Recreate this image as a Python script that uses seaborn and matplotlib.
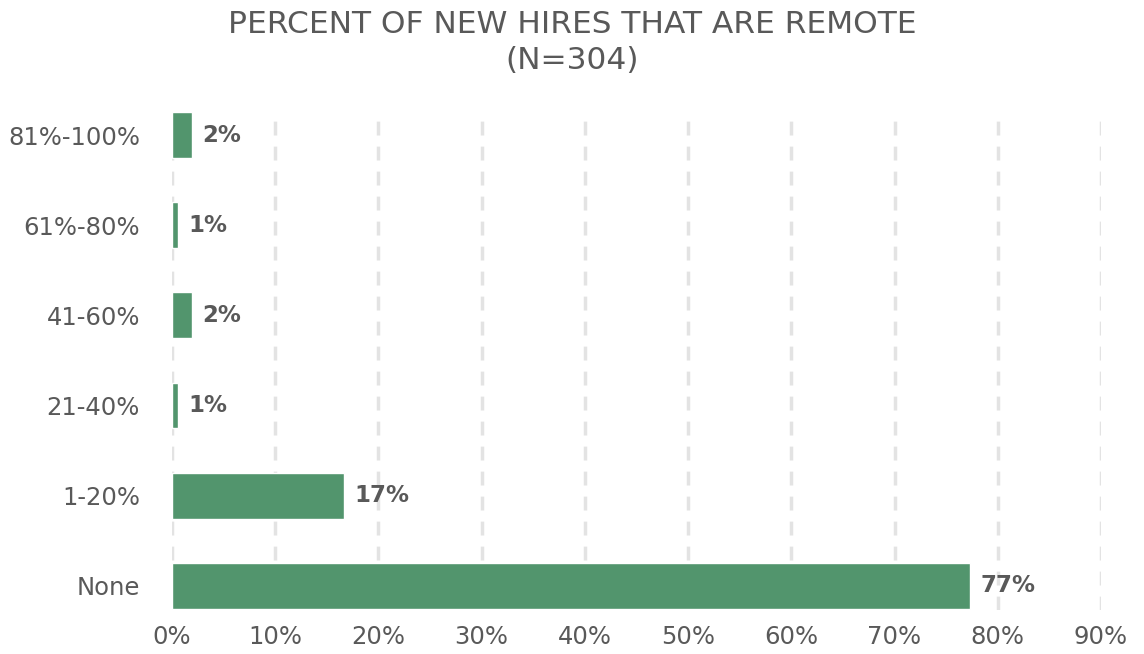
import matplotlib
matplotlib.use("Agg")
import matplotlib.pyplot as plt
import seaborn as sns
import pandas as pd

# Share of new hires working remotely, by bucket (N=304)
categories = ["81%-100%", "61%-80%", "41-60%", "21-40%", "1-20%", "None"]
percent = [1.9, 0.6, 1.9, 0.6, 16.7, 77.3]
x_ticks = [0, 10, 20, 30, 40, 50, 60, 70, 80, 90]

df = pd.DataFrame({"bucket": categories, "percent": percent})

sns.set_theme(style="white")
plt.rcParams["font.family"] = ["DejaVu Sans"]

text_color = "#595959"
bar_color = "#52956D"

fig = plt.figure(figsize=(11.44, 6.54), dpi=100)
ax = fig.add_axes([0.1503, 0.0673, 0.8121, 0.7645])

sns.barplot(data=df, x="percent", y="bucket", orient="h", color=bar_color,
            saturation=1, width=0.51, ax=ax, zorder=3)

ax.set_xlim(0, 90)
ax.set_ylim(5.27, -0.28)
ax.set_xticks(x_ticks)
ax.set_xticklabels([f"{t}%" for t in x_ticks])
ax.set_xlabel("")
ax.set_ylabel("")

for side in ax.spines.values():
    side.set_visible(False)

ax.xaxis.grid(True, color="#e3e3e3", linewidth=2.5, linestyle=(0, (4, 3.2)), zorder=0)
ax.yaxis.grid(False)
ax.set_axisbelow(True)

ax.tick_params(axis="x", length=0, pad=11, labelsize=17.5, labelcolor=text_color)
ax.tick_params(axis="y", length=0, pad=23, labelsize=17.5, labelcolor=text_color)

for i, v in enumerate(percent):
    ax.text(v + 1.0, i, f"{round(v)}%", va="center", ha="left",
            fontsize=16.5, fontweight="bold", color=text_color)

fig.text(0.5, 0.962, "PERCENT OF NEW HIRES THAT ARE REMOTE", ha="center",
         va="center", fontsize=22.5, color=text_color)
fig.text(0.5, 0.908, "(N=304)", ha="center", va="center",
         fontsize=22.5, color=text_color)

fig.savefig("out.png", dpi=100)
